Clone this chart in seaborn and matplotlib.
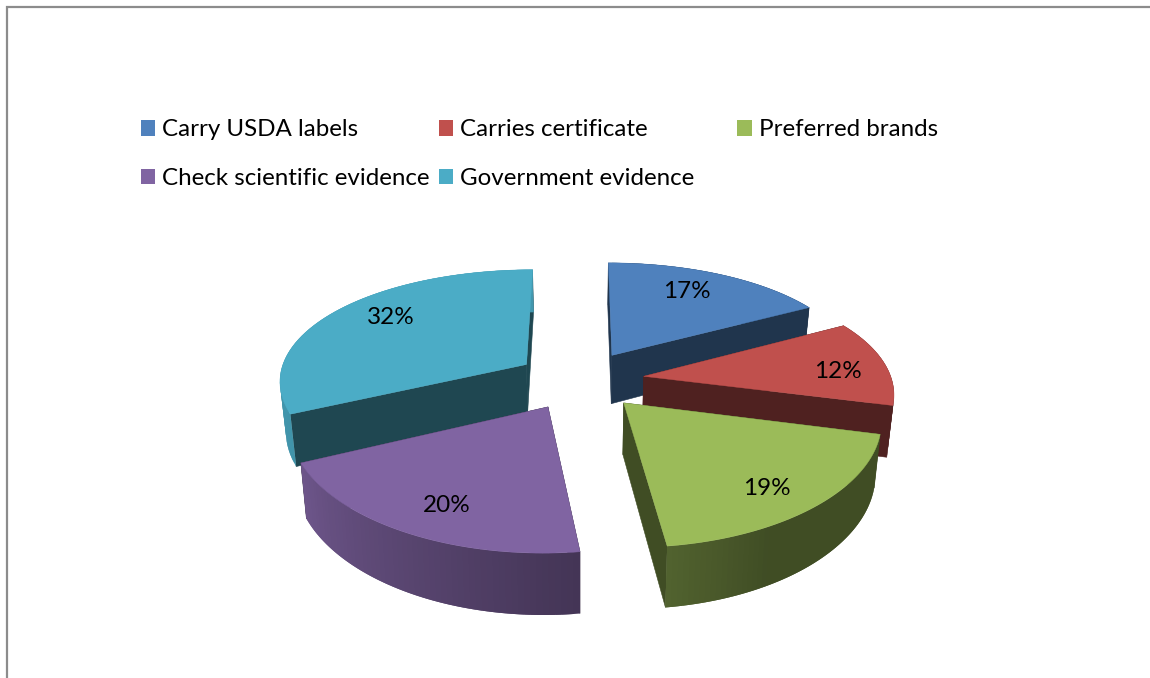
import numpy as np
import seaborn as sns
import matplotlib
import matplotlib.pyplot as plt
from matplotlib.patches import Patch

matplotlib.use('Agg')

labels = ["Carry USDA labels", "Carries certificate", "Preferred brands",
          "Check scientific evidence", "Government evidence"]
values = [17, 12, 19, 20, 32]
colors = ["#4F81BD", "#C0504D", "#9BBB59", "#8064A2", "#4BACC6"]

# wall shading, by clockwise angle from the top
shade_angles = [0, 150, 172.8, 245, 300, 360]
shade_levels = [0.41, 0.41, 0.53, 0.86, 0.88, 0.88]

# order the slices get painted in, back to front
draw_order = [4, 0, 1, 3, 2]

# fake 3d camera, in pixels
cx, cy = 580, 380
rx, ry = 248, 114
persp_x, persp_y = 0.13, 0.156
depth = 50
explode = 0.26
side_dark = 0.41

# pixel nudges for the percent labels
label_dx = [-7, 16, 5, 2, 7]
label_dy = [-2, 6, 12, 10, -6]

sns.set_theme(style="white")
plt.rcParams['font.family'] = ['Lato', 'DejaVu Sans']
palette = sns.color_palette(colors)


def project(x, y, bottom=False):
    sx = 1 / (1 + persp_x * y)
    sy = 1 / (1 + persp_y * y)
    px = rx * x * sx
    py = cy - ry * y * sy
    if bottom:
        px = px * 0.98
        py = py + depth * sy
    return cx + px, py


def darker(col, f):
    return tuple(c * f for c in col)


fig = plt.figure(figsize=(11.5, 6.78), dpi=100)
ax = fig.add_axes([0, 0, 1, 1])
ax.set_xlim(0, 1150)
ax.set_ylim(678, 0)
ax.axis('off')

# grey page frame
ax.plot([7, 7, 1150], [678, 7, 7], color="#8c8c8c", lw=1.6, solid_joinstyle='miter')

edges = np.cumsum([0] + values) / sum(values) * 2 * np.pi
for i in draw_order:
    a0, a1 = edges[i], edges[i + 1]
    mid = (a0 + a1) / 2
    ox, oy = explode * np.sin(mid), explode * np.cos(mid)
    col = palette[i]
    theta = np.linspace(a0, a1, 60)
    xs = ox + np.sin(theta)
    ys = oy + np.cos(theta)

    # radial walls
    for a in (a0, a1):
        ex, ey = ox + np.sin(a), oy + np.cos(a)
        t = np.linspace(0, 1, 2)
        lx, ly = ox + t * (ex - ox), oy + t * (ey - oy)
        tx, ty = project(lx, ly)
        bx, by = project(lx, ly, bottom=True)
        ax.fill(np.r_[tx, bx[::-1]], np.r_[ty, by[::-1]],
                color=darker(col, side_dark), lw=0.4)

    # outer wall, cut in overlapping strips so the shading can change along it
    tx, ty = project(xs, ys)
    bx, by = project(xs, ys, bottom=True)
    shades = np.interp(np.degrees(theta), shade_angles, shade_levels)
    for k in range(len(theta) - 1):
        n = min(k + 2, len(theta) - 1)
        ax.fill(np.r_[tx[k:n + 1], bx[k:n + 1][::-1]],
                np.r_[ty[k:n + 1], by[k:n + 1][::-1]],
                color=darker(col, shades[k]), lw=0)

    # top face
    ax_x, ax_y = project(np.r_[ox, xs], np.r_[oy, ys])
    ax.fill(ax_x, ax_y, color=col, lw=0.3)

    # percent label
    lx, ly = project(np.sin(mid), np.cos(mid))
    ax.text(lx + label_dx[i], ly + label_dy[i], f"{values[i]}%", ha='center', va='center',
            fontsize=17.5, color='black', zorder=5)

# legend, one per column because the real columns are evenly spaced
columns = [[0, 3], [1, 4], [2]]
column_x = [126, 424, 723]
for col_idx, x0 in zip(columns, column_x):
    handles = [Patch(facecolor=palette[j], edgecolor='none') for j in col_idx]
    leg = fig.legend(handles, [labels[j] for j in col_idx],
                     loc='upper left', bbox_to_anchor=(x0 / 1150, 1 - 105 / 678),
                     frameon=False, fontsize=17.4, labelspacing=1.14,
                     handlelength=0.62, handleheight=0.62, handletextpad=0.25,
                     borderaxespad=0, borderpad=0.6)
    for txt in leg.get_texts():
        txt.set_color('black')

fig.savefig('out.png', dpi=100)
